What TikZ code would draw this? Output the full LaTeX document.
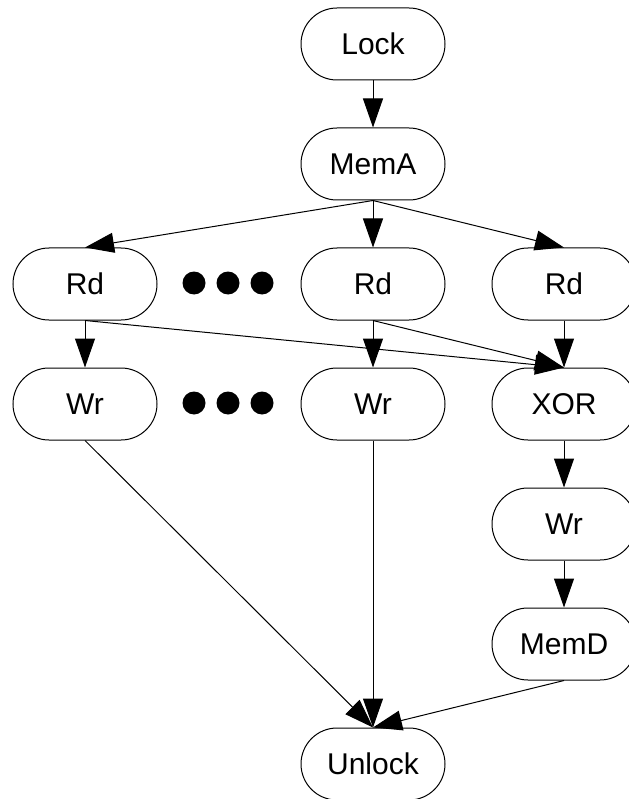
\documentclass[tikz,border=0pt]{standalone}
\usepackage{fontspec}
\setmainfont{Liberation Sans}
\usetikzlibrary{arrows.meta}
\begin{document}
\begin{tikzpicture}[x=1pt,y=-1pt,
  box/.style={draw,line width=1pt,rectangle,rounded corners=36pt,minimum width=144pt,minimum height=72pt,inner sep=0pt,font=\fontsize{30}{32}\selectfont},
  arr/.style={line width=1pt,-{Triangle[length=29pt,width=20pt]}},
  dot/.style={fill,circle,minimum size=23pt,inner sep=0pt}]
\useasboundingbox (0,0) rectangle (628,799);
\node[box] (lock) at (373,44) {Lock};
\node[box] (mema) at (373,164) {MemA};
\node[box] (rdL) at (85,284) {Rd};
\node[box] (rdM) at (373,284) {Rd};
\node[box] (rdR) at (564,284) {Rd};
\node[box] (wrL) at (85,404) {Wr};
\node[box] (wrM) at (373,404) {Wr};
\node[box] (xor) at (564,404) {XOR};
\node[box] (wrR) at (564,524) {Wr};
\node[box] (memd) at (564,644) {MemD};
\node[box] (unlock) at (373,764) {Unlock};
\node[dot] (d1) at (194,283) {};
\node[dot] (d2) at (228,283) {};
\node[dot] (d3) at (262,283) {};
\node[dot] (e1) at (194,403) {};
\node[dot] (e2) at (228,403) {};
\node[dot] (e3) at (262,403) {};
\draw[arr] (lock) -- (mema);
\draw[arr] (mema.south) -- (rdL.north);
\draw[arr] (mema.south) -- (rdM.north);
\draw[arr] (mema.south) -- (rdR.north);
\draw[arr] (rdL.south) -- (wrL.north);
\draw[arr] (rdL.south) -- (xor.north);
\draw[arr] (rdM.south) -- (wrM.north);
\draw[arr] (rdM.south) -- (xor.north);
\draw[arr] (rdR.south) -- (xor.north);
\draw[arr] (xor.south) -- (wrR.north);
\draw[arr] (wrR.south) -- (memd.north);
\draw[arr] (wrL.south) -- (unlock.north);
\draw[arr] (wrM.south) -- (unlock.north);
\draw[arr] (memd.south) -- (unlock.north);
\end{tikzpicture}
\end{document}
